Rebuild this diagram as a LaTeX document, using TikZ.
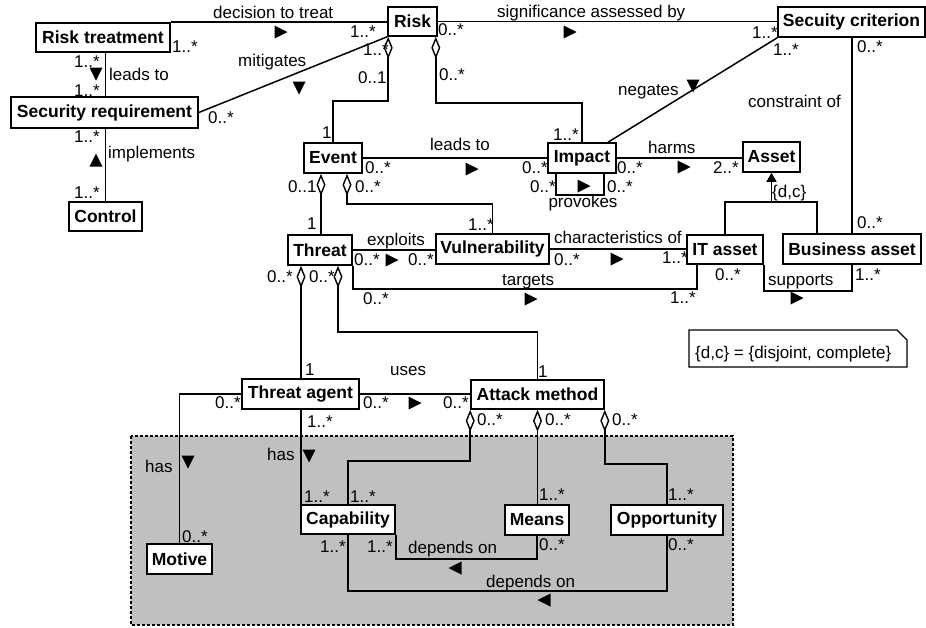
\documentclass[tikz,border=0pt]{standalone}
\usepackage{fontspec}
\setmainfont{Liberation Sans}
\usetikzlibrary{arrows.meta,calc}
\definecolor{shade}{HTML}{C0C0C0}
\tikzset{
 box/.style={draw, line width=1.6pt, fill=white, inner sep=0pt, font=\fontsize{17.5}{18}\selectfont\bfseries},
 lbl/.style={inner sep=0pt, anchor=base west, font=\fontsize{17}{18}\selectfont},
 conn/.style={line width=1.5pt},
 agg/.style={conn, arrows={Diamond[open,length=22pt,width=9pt,line width=1.4pt]-}},
 gen/.style={conn, arrows={-Triangle[length=9pt,width=10pt]}},
 dtri/.pic={\fill (-6.5,-6.5) -- (6.5,0) -- (-6.5,6.5) -- cycle;}
}
\newcommand\bx[6]{\node[box, minimum width=#4pt, minimum height=#5pt] (#1) at (#2,#3) {#6};}
\newcommand\lb[4]{\node[lbl] (#1) at (#2,#3) {#4};}
\begin{document}
\begin{tikzpicture}[x=1pt,y=-1pt]
\useasboundingbox (0,0) rectangle (926,627);
% shaded region
\draw[fill=shade, line width=1.3pt, dash pattern=on 3pt off 2pt] (131,436) rectangle (733,625);
% boxes
\bx{rt}{103}{37.5}{134}{29}{Risk treatment}
\bx{sr}{104.5}{112.5}{187}{31}{Security requirement}
\bx{ctl}{105.5}{216.5}{73}{29}{Control}
\bx{risk}{412.5}{21.5}{49}{29}{Risk}
\bx{sc}{851.5}{22}{147}{30}{Secuity criterion}
\bx{event}{333}{158}{58}{30}{Event}
\bx{impact}{582}{158}{68}{30}{Impact}
\bx{asset}{771.5}{157}{57}{30}{Asset}
\bx{itasset}{725}{249.5}{76}{29}{IT asset}
\bx{ba}{852}{249}{138}{30}{Business asset}
\bx{vuln}{492.5}{249}{113}{30}{Vulnerability}
\bx{threat}{320}{250}{64}{30}{Threat}
\bx{ta}{300.5}{394}{117}{30}{Threat agent}
\bx{am}{537.5}{394.5}{133}{29}{Attack method}
\bx{cap}{348}{519.5}{94}{29}{Capability}
\bx{means}{537}{520}{64}{30}{Means}
\bx{opp}{667}{520}{112}{30}{Opportunity}
\bx{motive}{179.5}{559}{65}{30}{Motive}
% helper coordinates
\coordinate (evl) at ([xshift=-12pt]event.south);
\coordinate (evr) at ([xshift=14pt]event.south);
\coordinate (rkl) at ([xshift=1pt]risk.south west);
\coordinate (rkr) at ([xshift=-2pt]risk.south east);
\coordinate (thl) at ([xshift=-19pt]threat.south);
\coordinate (thr) at ([xshift=18pt]threat.south);
\coordinate (capl) at ([xshift=1pt]cap.north west);
\coordinate (ngt) at ([xshift=26pt]impact.north);
\coordinate (pvl) at ([xshift=-26pt]impact.south);
\coordinate (pvr) at ([xshift=22pt]impact.south);
\coordinate (tgt) at ([xshift=-28pt]itasset.south);
\coordinate (bal) at ([xshift=35pt]ba.north west);
% connectors
\draw[conn] (rt.north east) -- (rt.north east -| risk.west);
\draw[conn] (sr.east) -- (risk.south west);
\draw[conn] (ctl.north |- rt.south) -- (ctl.north |- sr.north);
\draw[conn] (ctl.north |- sr.south) -- (ctl.north);
\draw[conn] (risk.east) -- (risk.east -| sc.west);
\draw[conn] (sc.south west) -- (ngt);
\draw[conn] (ba.north) -- (ba.north |- sc.south);
\draw[conn] (event.east) -- (impact.west);
\draw[conn] (impact.east) -- (impact.east -| asset.west);
\draw[conn] (pvl) -- ++(0,21) -| (pvr);
\draw[agg] (rkl) -- ++(0,64) -| (event.north);
\draw[agg] (rkr) -- ++(0,66) -| (impact.north);
\draw[agg] (evl) -- (evl |- threat.north);
\draw[agg] (evr) -- ++(0,30) -| (vuln.north);
\draw[conn] (threat.east) -- (threat.east -| vuln.west);
\draw[conn] (vuln.east) -- (vuln.east -| itasset.west);
\draw[conn] (threat.south east) -- ++(0,23) -| (tgt);
\draw[conn] (itasset.south east) -- ++(0,26) -| (ba.south);
\draw[conn] (itasset.north) -- ++(0,-32) -| (bal);
\draw[gen] ($(asset.south |- itasset.north)+(0,-32)$) -- (asset.south);
\draw[agg] (thl) -- (thl |- ta.north);
\draw[agg] (thr) -- ++(0,66) -| (am.north);
\draw[conn] (ta.east) -- (ta.east -| am.west);
\draw[conn] (ta.west) -| (motive.north);
\draw[conn] (capl |- ta.south) -- (capl);
\draw[agg] (am.south west) -- ++(0,51) -| (cap.north);
\draw[agg] (am.south) -- (am.south |- means.north);
\draw[agg] (am.south east) -- ++(0,54) -| (opp.north);
\draw[conn] (cap.south east) -- ++(0,24) -| (means.south);
\draw[conn] (cap.south) -- ++(0,56) -| (opp.south);
% note
\draw[line width=1.2pt, fill=white] (689,330) -- (897,330) -- (907,340) -- (907,367) -- (689,367) -- cycle;
\lb{note}{695}{358}{\{d,c\} = \{disjoint, complete\}}
% direction triangles
\pic at (281,32) {dtri};
\pic[rotate=-90] at (96,74) {dtri};
\pic[rotate=-90] at (299,88) {dtri};
\pic[rotate=90] at (96,160) {dtri};
\pic at (570,32) {dtri};
\pic[rotate=-90] at (693,86) {dtri};
\pic at (472,169) {dtri};
\pic at (584,186) {dtri};
\pic at (684,167) {dtri};
\pic at (392,260) {dtri};
\pic at (617,259) {dtri};
\pic at (531,299) {dtri};
\pic at (797,298) {dtri};
\pic at (415,403) {dtri};
\pic[rotate=-90] at (309,456) {dtri};
\pic[rotate=-90] at (188,462) {dtri};
\pic[rotate=180] at (455,568) {dtri};
\pic[rotate=180] at (544,600) {dtri};
% labels
\lb{l1}{213}{18}{decision to treat}
\lb{l2}{172}{52}{1..*}
\lb{l3}{350}{37}{1..*}
\lb{l4}{363}{55}{1..*}
\lb{l5}{238}{66}{mitigates}
\lb{l6}{208}{123}{0..*}
\lb{l7}{109}{80}{leads to}
\lb{l8}{74}{67}{1..*}
\lb{l9}{74}{96}{1..*}
\lb{l10}{108}{158}{implements}
\lb{l11}{74}{142}{1..*}
\lb{l12}{74}{198}{1..*}
\lb{l13}{358}{83}{0..1}
\lb{l14}{322}{138}{1}
\lb{l15}{438}{35}{0..*}
\lb{l16}{439}{80}{0..*}
\lb{l17}{553}{140}{1..*}
\lb{l18}{497}{17}{significance assessed by}
\lb{l19}{752}{38}{1..*}
\lb{l20}{773}{55}{1..*}
\lb{l21}{618}{95}{negates}
\lb{l22}{748}{107}{constraint of}
\lb{l23}{857}{52}{0..*}
\lb{l24}{857}{228}{0..*}
\lb{l25}{430}{150}{leads to}
\lb{l26}{365}{173}{0..*}
\lb{l27}{522}{173}{0..*}
\lb{l28}{648}{153}{harms}
\lb{l29}{617}{173}{0..*}
\lb{l30}{713}{173}{2..*}
\lb{l31}{530}{192}{0..*}
\lb{l32}{607}{192}{0..*}
\node[lbl, anchor=base] (l33) at (583,207) {provokes};
\lb{l34}{288}{192}{0..1}
\lb{l35}{355}{192}{0..*}
\lb{l36}{307}{229}{1}
\lb{l37}{468}{230}{1..*}
\lb{l38}{772}{197}{\{d,c\}}
\lb{l39}{367}{245}{exploits}
\lb{l40}{354}{265}{0..*}
\lb{l41}{408}{265}{0..*}
\lb{l42}{554}{243}{characteristics of}
\lb{l43}{554}{265}{0..*}
\lb{l44}{662}{263}{1..*}
\lb{l45}{267}{282}{0..*}
\lb{l46}{309}{282}{0..*}
\lb{l47}{502}{285}{targets}
\lb{l48}{363}{304}{0..*}
\lb{l49}{670}{303}{1..*}
\lb{l50}{715}{280}{0..*}
\lb{l51}{768}{285}{supports}
\lb{l52}{855}{280}{1..*}
\lb{l53}{305}{375}{1}
\lb{l54}{390}{375}{uses}
\lb{l55}{538}{377}{1}
\lb{l56}{215}{408}{0..*}
\lb{l57}{363}{408}{0..*}
\lb{l58}{443}{408}{0..*}
\lb{l59}{307}{427}{1..*}
\lb{l60}{477}{425}{0..*}
\lb{l61}{545}{425}{0..*}
\lb{l62}{612}{425}{0..*}
\lb{l63}{267}{460}{has}
\lb{l64}{145}{472}{has}
\lb{l65}{304}{502}{1..*}
\lb{l66}{350}{502}{1..*}
\lb{l67}{539}{500}{1..*}
\lb{l68}{668}{500}{1..*}
\lb{l69}{182}{542}{0..*}
\lb{l70}{320}{552}{1..*}
\lb{l71}{367}{552}{1..*}
\lb{l72}{408}{553}{depends on}
\lb{l73}{539}{550}{0..*}
\lb{l74}{668}{550}{0..*}
\lb{l75}{486}{587}{depends on}
\end{tikzpicture}
\end{document}
